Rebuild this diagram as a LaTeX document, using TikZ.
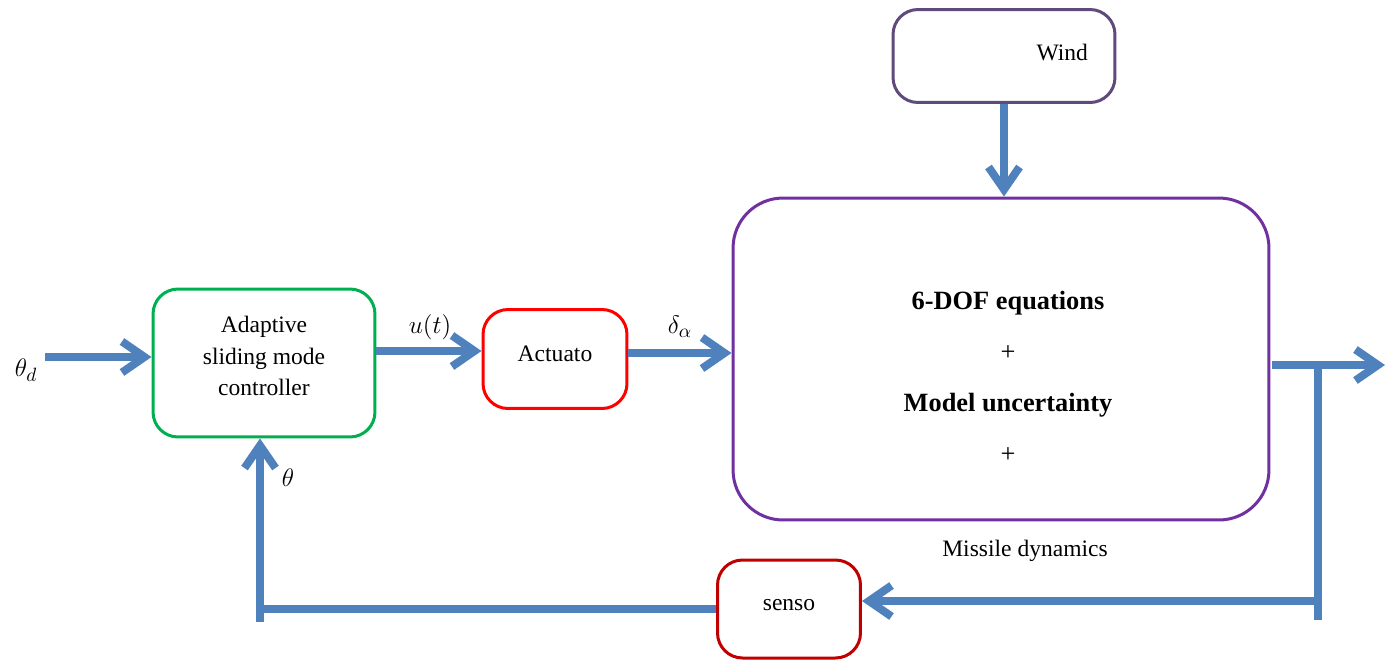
\documentclass[tikz,border=0pt]{standalone}
\definecolor{flow}{RGB}{79,129,189}
\definecolor{ctrlc}{RGB}{0,176,80}
\definecolor{actc}{RGB}{255,0,0}
\definecolor{dync}{RGB}{112,48,160}
\definecolor{windc}{RGB}{96,74,123}
\definecolor{sensc}{RGB}{192,0,0}
\usepackage{fontspec}
\setmainfont{Liberation Serif}
\usepackage{tikz}
\usetikzlibrary{
	arrows.meta,
	positioning
}
\tikzset{
  % arrow
	cstline/.style   ={flow, line width=0.16cm},
	cstarrow/.style  ={cstline, -{Straight Barb[length=0.45cm,width=0.62cm]}},
  % node
	cstbox/.style    ={draw, fill=white, text=black, line width=0.06cm, rounded corners=0.5cm, align=center},
	cstctrl/.style   ={cstbox, draw=ctrlc, minimum width=4.44cm, minimum height=2.96cm},
	cstact/.style    ={cstbox, draw=actc, minimum width=2.88cm, minimum height=1.98cm},
	cstdyn/.style    ={cstbox, draw=dync, minimum width=10.72cm, minimum height=6.44cm, rounded corners=1cm},
	cstwind/.style   ={cstbox, draw=windc, minimum width=4.44cm, minimum height=1.86cm, text width=3.36cm, align=right},
	cstsens/.style   ={cstbox, draw=sensc, minimum width=2.86cm, minimum height=1.96cm},
	csttxt/.style    ={inner sep=0pt, text=black},
	cstmath/.style   ={csttxt, font=\fontsize{15}{18}\selectfont}
}

\begin{document}
\begin{tikzpicture}[x=0.02cm, y=-0.02cm, font=\fontsize{13.4}{18}\selectfont]
			\useasboundingbox (0,0) rectangle (1389,660);
			% blocks
			\node[cstctrl] (ctrl) at (264,363) {Adaptive\\sliding mode\\controller\\[-10pt]};
			\node[cstact] (act) at (555,359) {Actuato\\[-12.5pt]};
			\node[cstdyn] (dyn) at (1001,359) {};
			\node[csttxt, align=center, font=\fontsize{15}{29}\selectfont] (dyntxt) at (1008,377)
				{\textbf{6-DOF equations}\\+\\\textbf{Model uncertainty}\\+};
			\node[csttxt] (dynlbl) at (1025,551) {Missile dynamics};
			\node[cstwind] (wind) at (1004,56) {Wind\\[-14pt]\mbox{}};
			\node[cstsens] (sens) at (789,609) {senso\\[-13.5pt]};
			% signals
			\coordinate (in) at (45,357);
			\coordinate (ulev) at (0,351);
			\coordinate (dlev) at (0,353);
			\coordinate (dynout) at (1272,365);
			\coordinate (out) at (1385,365);
			\coordinate (tap) at (1318,365);
			\coordinate (tapbot) at (1318,620);
			\coordinate (fblev) at (0,601);
			\coordinate (fbbot) at (260,622);
			\draw[cstarrow] (in) -- (ctrl.west |- in);
			\draw[cstarrow] (ctrl.east |- ulev) -- (act.west |- ulev);
			\draw[cstarrow] (act.east |- dlev) -- (dyn.west |- dlev);
			\draw[cstarrow] (wind.south) -- (wind.south |- dyn.north);
			\draw[cstarrow] (dynout) -- (out);
			\draw[cstline] (tap) -- (tapbot);
			\draw[cstarrow] (tap |- fblev) -- (sens.east |- fblev);
			\draw[cstline] (sens.west) -- (sens.west -| fbbot);
			\draw[cstarrow] (fbbot) -- (fbbot |- ctrl.south);
			% labels
			\node[cstmath] (thd) at (26,370) {$\theta_d$};
			\node[cstmath] (ut) at (430,327) {$u(t)$};
			\node[cstmath] (da) at (680,327) {$\delta_\alpha$};
			\node[cstmath] (th) at (288,478) {$\theta$};
		\end{tikzpicture}
\end{document}
